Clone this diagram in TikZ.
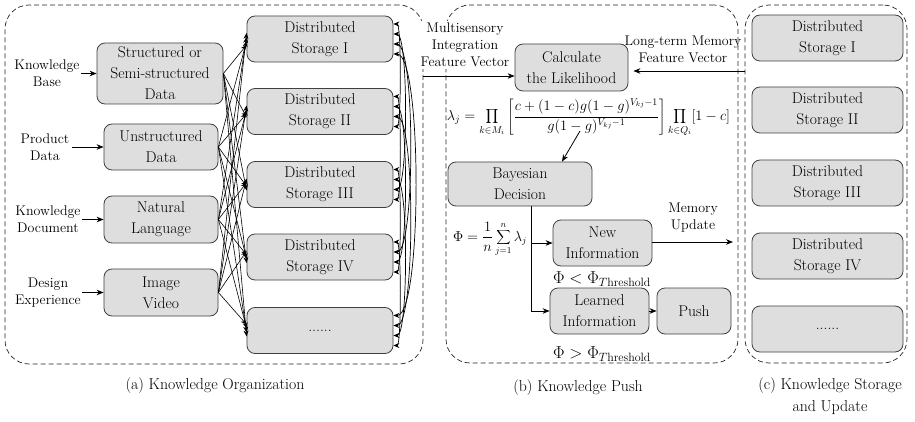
\documentclass[tikz,border=0pt]{standalone}
\usetikzlibrary{arrows.meta,calc}
\tikzset{
  box/.style={draw=black!75, fill=black!13, rounded corners=8pt, line width=0.8pt, align=center,
    font=\rmfamily\fontsize{15.6}{21}\selectfont, inner sep=0pt},
  lbl/.style={align=center, font=\rmfamily\fontsize{14}{17}\selectfont, inner sep=1pt},
  captxt/.style={align=center, font=\rmfamily\fontsize{15.8}{22}\selectfont},
  panel/.style={draw=black!85, dash pattern=on 5pt off 3pt, rounded corners=24pt, line width=0.7pt, inner sep=0pt},
  arr/.style={-{Stealth[length=7pt,width=5.5pt]}, line width=0.8pt},
  darr/.style={{Stealth[length=6pt,width=5pt]}-{Stealth[length=6pt,width=5pt]}, line width=0.7pt},
  sarr/.style={-{Stealth[length=6pt,width=5pt]}, line width=0.6pt},
}
\begin{document}
\begin{tikzpicture}[x=1pt,y=-1pt]
\useasboundingbox (0,0) rectangle (915,422);
% panels
\node[panel, minimum width=418pt, minimum height=359pt] (pa) at (214,184.5) {};
\node[panel, minimum width=292pt, minimum height=358pt] (pb) at (592,184) {};
\node[panel, minimum width=162pt, minimum height=358pt] (pc) at (826,184) {};

% panel (a) sources
\node[box, minimum width=126pt, minimum height=61pt] (s1) at (160,73.5) {Structured or\\Semi-structured\\Data};
\node[box, minimum width=114pt, minimum height=46pt] (s2) at (161,147) {Unstructured\\Data};
\node[box, minimum width=114pt, minimum height=47pt] (s3) at (161,219.5) {Natural\\Language};
\node[box, minimum width=114pt, minimum height=47pt] (s4) at (161,292.5) {Image\\Video};

\node[lbl] (l1) at (47,73.5) {Knowledge\\Base};
\node[lbl] (l2) at (45,147) {Product\\Data};
\node[lbl] (l3) at (48,219.5) {Knowledge\\Document};
\node[lbl] (l4) at (48,292.5) {Design\\Experience};
\draw[arr] (l1.east) -- (s1.west);
\draw[arr] ([xshift=2pt]l2.east) -- (s2.west);
\draw[arr] (l3.east) -- (s3.west);
\draw[arr] (l4.east) -- (s4.west);

% panel (a) storages
\node[box, minimum width=146pt, minimum height=46pt] (d1) at (320,39) {Distributed\\Storage I};
\node[box, minimum width=146pt, minimum height=46pt] (d2) at (320,111.5) {Distributed\\Storage II};
\node[box, minimum width=146pt, minimum height=46pt] (d3) at (320,184.5) {Distributed\\Storage III};
\node[box, minimum width=146pt, minimum height=46pt] (d4) at (320,257) {Distributed\\Storage IV};
\node[box, minimum width=146pt, minimum height=46pt] (d5) at (320,330.5) {......};

% bipartite arrows
\foreach \s/\o in {1/-6,2/-2,3/2,4/6}{
  \foreach \d in {1,...,5}{
    \draw[sarr] (s\s.east) -- ([yshift=\o pt]d\d.west);
  }
}

% curved double arrows on the right of storages
\draw[darr] ([yshift=15pt]d1.east) .. controls +(8,0) and +(8,0) .. ([yshift=-15pt]d2.east);
\draw[darr] ([yshift=5pt]d1.east) .. controls +(15,0) and +(15,0) .. ([yshift=-5pt]d3.east);
\draw[darr] ([yshift=-5pt]d1.east) .. controls +(22,0) and +(22,0) .. ([yshift=5pt]d4.east);
\draw[darr] ([yshift=-15pt]d1.east) .. controls +(29,0) and +(29,0) .. ([yshift=15pt]d5.east);
\draw[darr] ([yshift=15pt]d2.east) .. controls +(8,0) and +(8,0) .. ([yshift=-15pt]d3.east);
\draw[darr] ([yshift=5pt]d2.east) .. controls +(15,0) and +(15,0) .. ([yshift=-5pt]d4.east);
\draw[darr] ([yshift=-5pt]d2.east) .. controls +(22,0) and +(22,0) .. ([yshift=5pt]d5.east);
\draw[darr] ([yshift=15pt]d3.east) .. controls +(8,0) and +(8,0) .. ([yshift=-15pt]d4.east);
\draw[darr] ([yshift=5pt]d3.east) .. controls +(15,0) and +(15,0) .. ([yshift=-5pt]d5.east);
\draw[darr] ([yshift=15pt]d4.east) .. controls +(8,0) and +(8,0) .. ([yshift=-15pt]d5.east);

% panel (b)
\node[box, minimum width=113pt, minimum height=47pt] (calc) at (571.5,67.5) {Calculate\\the Likelihood};
\node[lbl, fill=white, inner sep=2pt] (msl) at (465,45) {Multisensory\\Integration\\Feature Vector};
\node[lbl] (ltl) at (683,49) {Long-term Memory\\Feature Vector};
\coordinate (msin) at (423,76);
\draw[arr] (msin) -- (calc.west |- msin);
\coordinate (ltin) at (745,71);
\draw[arr] (ltin) -- ([xshift=5pt]calc.east |- ltin);

\node[inner sep=0pt, font=\fontsize{14.8}{17}\selectfont] (lam) at (588.5,117.5)
  {$\displaystyle \lambda_j=\prod_{k\in M_i}\left[\frac{c+(1-c)g(1-g)^{V_{kj}-1}}{g(1-g)^{V_{kj}-1}}\right]\prod_{k\in Q_i}[1-c]$};

\node[box, minimum width=144pt, minimum height=44pt] (bay) at (520,184) {Bayesian\\Decision};
\coordinate (lamb) at (580,131);
\draw[arr] (lamb) -- ([xshift=42pt]bay.north);

\node[inner sep=0pt, font=\fontsize{13.5}{16}\selectfont] (phi) at (490,239) {$\displaystyle \Phi=\frac{1}{n}\sum_{j=1}^{n}\lambda_j$};

\node[box, minimum width=99pt, minimum height=46pt] (new) at (602.5,243) {New\\Information};
\node[box, minimum width=99pt, minimum height=46pt] (lrn) at (599.5,311) {Learned\\Information};
\node[box, minimum width=74pt, minimum height=46pt] (push) at (694,311) {Push};
\node[font=\fontsize{16.5}{18}\selectfont, inner sep=0pt] (lt) at (602,279) {$\Phi<\Phi_{T\mathrm{hreshold}}$};
\node[font=\fontsize{16.5}{18}\selectfont, inner sep=0pt] (gt) at (602,354) {$\Phi>\Phi_{T\mathrm{hreshold}}$};

\coordinate (bsplit) at ([xshift=11pt]bay.south);
\draw[arr] (bsplit) |- (new.west);
\draw[arr] (bsplit) |- (lrn.west);
\draw[arr] (lrn.east) -- (push.west);
\coordinate (muout) at (733,242);
\draw[arr] (new.east |- muout) -- (muout);
\node[lbl] (mul) at (693,217.5) {Memory\\Update};

% panel (c)
\node[box, minimum width=151pt, minimum height=46pt] (c1) at (827.5,38) {Distributed\\Storage I};
\node[box, minimum width=151pt, minimum height=46pt] (c2) at (827.5,110) {Distributed\\Storage II};
\node[box, minimum width=151pt, minimum height=46pt] (c3) at (827.5,183) {Distributed\\Storage III};
\node[box, minimum width=151pt, minimum height=46pt] (c4) at (827.5,256) {Distributed\\Storage IV};
\node[box, minimum width=151pt, minimum height=46pt] (c5) at (827.5,329) {......};

% captions
\node[captxt] (capa) at (215,386) {(a) Knowledge Organization};
\node[captxt] (capb) at (578,388) {(b) Knowledge Push};
\node[captxt] (capc) at (830,396) {(c) Knowledge Storage\\and Update};
\end{tikzpicture}
\end{document}
